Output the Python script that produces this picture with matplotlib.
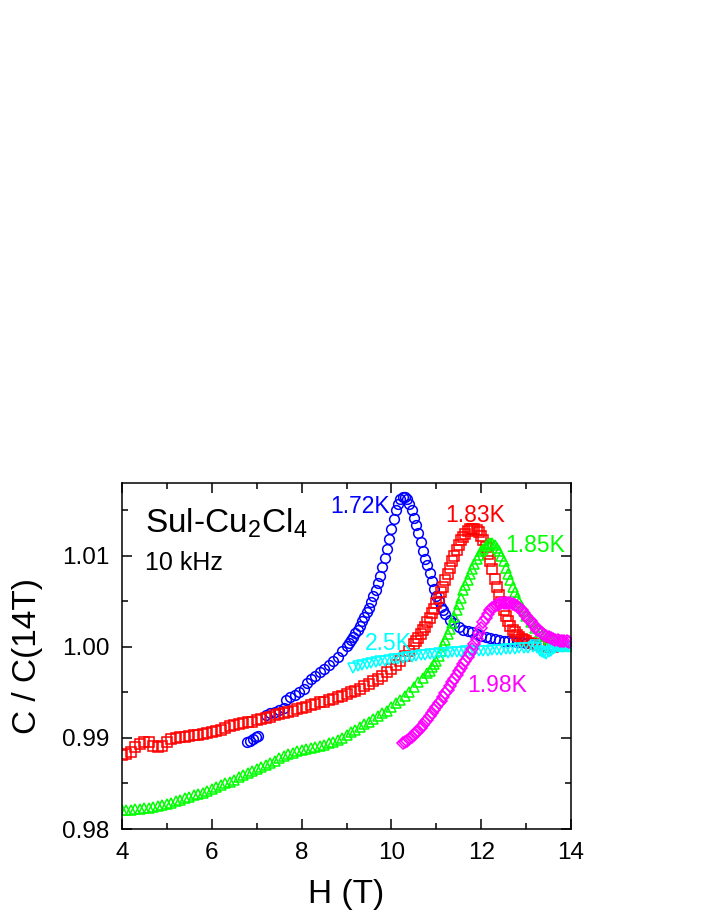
import numpy as np
import matplotlib
matplotlib.use('Agg')
import matplotlib.pyplot as plt

plt.rcParams['font.family'] = ['Liberation Sans', 'DejaVu Sans']
plt.rcParams['mathtext.fontset'] = 'custom'
plt.rcParams['mathtext.rm'] = 'Liberation Sans'
plt.rcParams['mathtext.it'] = 'Liberation Sans'

# 1.72 K  (blue circles)
h_172 = [6.78, 6.85, 6.92, 6.98, 7.03,
         7.2, 7.3, 7.4, 7.5, 7.6,
         7.65, 7.75, 7.85, 7.95, 8.05, 8.12, 8.2, 8.3, 8.4, 8.5, 8.6, 8.7, 8.8, 8.9,
         9.0, 9.05, 9.1, 9.15, 9.2, 9.25, 9.3, 9.35, 9.4, 9.45, 9.5, 9.55, 9.6, 9.65,
         9.7, 9.75, 9.8, 9.85, 9.9, 9.95, 10.0, 10.05, 10.1, 10.15, 10.2, 10.25, 10.3,
         10.35, 10.4, 10.45, 10.5, 10.55, 10.6, 10.65, 10.7, 10.75, 10.8, 10.85, 10.9,
         10.95, 11.0, 11.05, 11.1, 11.15, 11.2, 11.3, 11.4, 11.5, 11.6, 11.7, 11.8,
         11.9, 12.0, 12.1, 12.2, 12.3, 12.4, 12.5, 12.6, 12.7, 12.8, 12.9, 13.0, 13.1,
         13.2, 13.3, 13.4, 13.5, 13.6, 13.7, 13.8]
c_172 = [0.98955, 0.9897, 0.9899, 0.9901, 0.9902,
         0.9925, 0.9927, 0.9929, 0.9931, 0.9933,
         0.9942, 0.9945, 0.9947, 0.9950, 0.9954, 0.9960, 0.9965, 0.9968, 0.9972, 0.9976,
         0.9980, 0.9984, 0.9989, 0.9995,
         1.0001, 1.0004, 1.0008, 1.0011, 1.0015, 1.0019, 1.0023, 1.0028, 1.0033, 1.0038,
         1.0043, 1.0049, 1.0056, 1.0063, 1.0070, 1.0078, 1.0088, 1.0098, 1.0108, 1.0119,
         1.0130, 1.0140, 1.0150, 1.0157, 1.0162, 1.0165, 1.0165, 1.0162, 1.0157, 1.0150,
         1.0142, 1.0134, 1.0125, 1.0115, 1.0105, 1.0097, 1.0090, 1.0081, 1.0072, 1.0064,
         1.0056, 1.0050, 1.0044, 1.0040, 1.0036, 1.0030, 1.0026, 1.0022, 1.0019, 1.0017,
         1.0016, 1.0014, 1.0012, 1.0011, 1.0010, 1.0009, 1.0008, 1.0007, 1.0006, 1.0006,
         1.0005, 1.0005, 1.0004, 1.0004, 1.0003, 1.0003, 1.0003, 1.0002, 1.0002, 1.0002,
         1.0001]

# 1.83 K  (red squares)
h_183 = [4.0, 4.1, 4.2, 4.3, 4.4, 4.5, 4.6, 4.7, 4.8, 4.9, 5.0, 5.1, 5.2, 5.3, 5.4, 5.5,
         5.6, 5.7, 5.8, 5.9, 6.0, 6.1, 6.2, 6.3, 6.4, 6.5, 6.6, 6.7, 6.8, 6.9, 7.0, 7.1,
         7.2, 7.3, 7.4, 7.5, 7.6, 7.7, 7.8, 7.9, 8.0, 8.1, 8.2, 8.3, 8.4, 8.5, 8.6, 8.7,
         8.8, 8.9, 9.0, 9.1, 9.2, 9.3, 9.4, 9.5, 9.6, 9.7, 9.8, 9.9, 10.0, 10.1, 10.2,
         10.3, 10.4, 10.5, 10.55, 10.6, 10.65, 10.7, 10.75, 10.8, 10.85, 10.9, 10.95, 11.0,
         11.05, 11.1, 11.15, 11.2, 11.25, 11.3, 11.35, 11.4, 11.45, 11.5, 11.55, 11.6,
         11.65, 11.7, 11.75, 11.8, 11.85, 11.9, 11.95, 12.0, 12.05, 12.1, 12.15, 12.2,
         12.25, 12.3, 12.35, 12.4, 12.45, 12.5, 12.55, 12.6, 12.65, 12.7, 12.75, 12.8,
         12.85, 12.9, 12.95, 13.0, 13.1, 13.2, 13.3, 13.4, 13.5, 13.6]
c_183 = [0.9881, 0.9882, 0.9885, 0.9890, 0.9893, 0.9895, 0.9895, 0.9891, 0.9890, 0.9891,
         0.9895, 0.9899, 0.9900, 0.9901, 0.9901, 0.9902, 0.9903, 0.9903, 0.9904, 0.9905,
         0.9906, 0.9908, 0.9909, 0.9911, 0.9913, 0.9914, 0.9915, 0.9916, 0.9917, 0.9918,
         0.9920, 0.9921, 0.9922, 0.9923, 0.9925, 0.9926, 0.9927, 0.9929, 0.9930, 0.9932,
         0.9933, 0.9934, 0.9936, 0.9937, 0.9939, 0.9940, 0.9942, 0.9943, 0.9945, 0.9946,
         0.9948, 0.9950, 0.9952, 0.9954, 0.9957, 0.9959, 0.9962, 0.9965, 0.9968, 0.9972,
         0.9976, 0.9980, 0.9985, 0.9990, 0.9996, 1.0003, 1.0006, 1.0010, 1.0014, 1.0018,
         1.0022, 1.0027, 1.0032, 1.0037, 1.0042, 1.0048, 1.0054, 1.0060, 1.0066, 1.0073,
         1.0080, 1.0087, 1.0094, 1.0100, 1.0106, 1.0112, 1.0117, 1.0121, 1.0124, 1.0127,
         1.0129, 1.0130, 1.0130, 1.0128, 1.0126, 1.0122, 1.0117, 1.0110, 1.0102, 1.0094,
         1.0085, 1.0075, 1.0066, 1.0057, 1.0049, 1.0041, 1.0034, 1.0028, 1.0023, 1.0019,
         1.0016, 1.0013, 1.0011, 1.0009, 1.0008, 1.0006, 1.0004, 1.0003, 1.0002, 1.0001,
         1.0000, 1.0000]

# 1.85 K  (green up-triangles)
h_185 = [4.0, 4.1, 4.2, 4.3, 4.4, 4.5, 4.6, 4.7, 4.8, 4.9, 5.0, 5.1, 5.2, 5.3, 5.4, 5.5,
         5.6, 5.7, 5.8, 5.9, 6.0, 6.1, 6.2, 6.3, 6.4, 6.5, 6.6, 6.7, 6.8, 6.9, 7.0, 7.1,
         7.2, 7.3, 7.4, 7.5, 7.6, 7.7, 7.8, 7.9, 8.0, 8.1, 8.2, 8.3, 8.4, 8.5, 8.6, 8.7,
         8.8, 8.9, 9.0, 9.1, 9.2, 9.3, 9.4, 9.5, 9.6, 9.7, 9.8, 9.9, 10.0, 10.1, 10.2,
         10.3, 10.4, 10.5, 10.6, 10.7, 10.8, 10.85, 10.9, 10.95, 11.0, 11.05, 11.1, 11.15,
         11.2, 11.25, 11.3, 11.35, 11.4, 11.45, 11.5, 11.55, 11.6, 11.65, 11.7, 11.75,
         11.8, 11.85, 11.9, 11.95, 12.0, 12.05, 12.1, 12.15, 12.2, 12.25, 12.3, 12.35,
         12.4, 12.45, 12.5, 12.55, 12.6, 12.65, 12.7, 12.75, 12.8, 12.85, 12.9, 12.95,
         13.0, 13.1, 13.2, 13.3, 13.4, 13.5, 13.6, 13.7, 13.8, 13.9]
c_185 = [0.9821, 0.9821, 0.9821, 0.9822, 0.9822, 0.9823, 0.9823, 0.9824, 0.9825, 0.9826,
         0.9828, 0.9829, 0.9831, 0.9832, 0.9834, 0.9835, 0.9837, 0.9838, 0.9840, 0.9842,
         0.9844, 0.9846, 0.9848, 0.9850, 0.9852, 0.9854, 0.9857, 0.9859, 0.9862, 0.9864,
         0.9866, 0.9868, 0.9870, 0.9873, 0.9875, 0.9878, 0.9880, 0.9882, 0.9884, 0.9886,
         0.9887, 0.9888, 0.9889, 0.9890, 0.9891, 0.9892, 0.9894, 0.9896, 0.9898, 0.9900,
         0.9903, 0.9906, 0.9909, 0.9912, 0.9915, 0.9918, 0.9921, 0.9924, 0.9927, 0.9930,
         0.9934, 0.9938, 0.9942, 0.9946, 0.9951, 0.9956, 0.9961, 0.9966, 0.9971, 0.9974,
         0.9978, 0.9981, 0.9985, 0.9990, 0.9996, 1.0002, 1.0008, 1.0014, 1.0020, 1.0026,
         1.0033, 1.0040, 1.0047, 1.0054, 1.0062, 1.0068, 1.0074, 1.0080, 1.0086, 1.0091,
         1.0096, 1.0101, 1.0105, 1.0108, 1.0111, 1.0113, 1.0114, 1.0114, 1.0112, 1.0109,
         1.0105, 1.0100, 1.0094, 1.0087, 1.0080, 1.0073, 1.0066, 1.0060, 1.0054, 1.0049,
         1.0044, 1.0039, 1.0034, 1.0027, 1.0021, 1.0016, 1.0012, 1.0009, 1.0006, 1.0004,
         1.0002, 1.0001]

# 1.98 K  (magenta diamonds)
h_198 = [10.25, 10.3, 10.35, 10.4, 10.45, 10.5, 10.55, 10.6, 10.65, 10.7, 10.75, 10.8,
         10.85, 10.9, 10.95, 11.0, 11.05, 11.1, 11.15, 11.2, 11.25, 11.3, 11.35, 11.4,
         11.45, 11.5, 11.55, 11.6, 11.65, 11.7, 11.75, 11.8, 11.85, 11.9, 11.95, 12.0,
         12.05, 12.1, 12.15, 12.2, 12.25, 12.3, 12.35, 12.4, 12.45, 12.5, 12.55, 12.6,
         12.65, 12.7, 12.75, 12.8, 12.85, 12.9, 12.95, 13.0, 13.05, 13.1, 13.15, 13.2,
         13.25, 13.3, 13.35, 13.4, 13.45, 13.5, 13.55, 13.6, 13.65, 13.7, 13.75, 13.8,
         13.85, 13.9, 13.95]
c_198 = [0.9894, 0.9895, 0.9897, 0.9899, 0.9901, 0.9903, 0.9906, 0.9908, 0.9911, 0.9914,
         0.9917, 0.9920, 0.9924, 0.9927, 0.9931, 0.9934, 0.9938, 0.9941, 0.9945, 0.9949,
         0.9953, 0.9957, 0.9961, 0.9965, 0.9969, 0.9973, 0.9977, 0.9981, 0.9985, 0.9989,
         0.9993, 0.9998, 1.0003, 1.0009, 1.0015, 1.0021, 1.0027, 1.0032, 1.0036, 1.0040,
         1.0043, 1.0045, 1.0046, 1.0047, 1.0048, 1.0048, 1.0048, 1.0048, 1.0048, 1.0047,
         1.0046, 1.0045, 1.0043, 1.0040, 1.0037, 1.0034, 1.0031, 1.0028, 1.0025, 1.0022,
         1.0019, 1.0017, 1.0015, 1.0013, 1.0012, 1.0011, 1.0010, 1.0009, 1.0008, 1.0008,
         1.0007, 1.0007, 1.0006, 1.0006, 1.0005]

# 2.5 K  (cyan down-triangles)
h_250 = [9.15, 9.25, 9.35, 9.45, 9.55, 9.65, 9.75, 9.85, 9.95, 10.05, 10.15, 10.25, 10.35,
         10.45, 10.55, 10.65, 10.75, 10.85, 10.95, 11.05, 11.15, 11.25, 11.35, 11.45,
         11.55, 11.65, 11.75, 11.85, 11.95, 12.05, 12.15, 12.25, 12.35, 12.45, 12.55,
         12.65, 12.75, 12.85, 12.95, 13.05, 13.15, 13.2, 13.25, 13.3, 13.35, 13.4, 13.45,
         13.5, 13.55, 13.6, 13.65, 13.7, 13.75, 13.8, 13.85, 13.9, 13.95]
c_250 = [0.9977, 0.9979, 0.9980, 0.9981, 0.9982, 0.9983, 0.9984, 0.9985, 0.9986, 0.9987,
         0.9987, 0.9988, 0.9989, 0.9989, 0.9990, 0.9991, 0.9991, 0.9992, 0.9992, 0.9993,
         0.9993, 0.9993, 0.9994, 0.9994, 0.9994, 0.9995, 0.9995, 0.9995, 0.9996, 0.9996,
         0.9996, 0.9997, 0.9997, 0.9997, 0.9998, 0.9998, 0.9998, 0.9999, 0.9999, 0.9999,
         1.0000, 1.0002, 0.9999, 0.9996, 0.9994, 0.9993, 0.9992, 0.9994, 0.9996, 0.9998,
         0.9999, 1.0000, 1.0000, 1.0000, 1.0000, 1.0000, 1.0000]

fig = plt.figure(figsize=(7.06, 9.13), dpi=100)
ax = fig.add_axes([0.1728, 0.092, 0.636, 0.379])

mkw = dict(ls='none', mfc='none', mew=1.1)
ax.plot(h_172, c_172, marker='o', ms=7, mec='#0000ff', **mkw)
ax.plot(h_183, c_183, marker='s', ms=6.5, mec='#ff0000', **mkw)
ax.plot(h_185, c_185, marker='^', ms=7, mec='#00ff00', **mkw)
ax.plot(h_250, c_250, marker='v', ms=7, mec='#00ffff', **mkw)
ax.plot(h_198, c_198, marker='D', ms=6, mec='#ff00ff', **mkw)

ax.set_xlim(4, 14)
ax.set_ylim(0.98, 1.018)
ax.set_xticks([4, 6, 8, 10, 12, 14])
ax.set_xticks(np.arange(4, 14.01, 1), minor=True)
ax.set_yticks([0.98, 0.99, 1.00, 1.01])
ax.set_yticklabels(['0.98', '0.99', '1.00', '1.01'])
ax.set_yticks([0.985, 0.995, 1.005, 1.015], minor=True)
ax.tick_params(which='both', direction='in', top=True, right=True, width=1.1,
               labelsize=17.5, pad=9)
ax.tick_params(which='major', length=7)
ax.tick_params(which='minor', length=4)
for s in ax.spines.values():
    s.set_linewidth(1.1)

ax.set_xlabel('H (T)', fontsize=24, labelpad=11)
ax.set_ylabel('C / C(14T)', fontsize=24, labelpad=14)

ax.text(4.51, 1.01253, 'Sul-Cu$_2$Cl$_4$', fontsize=24, va='baseline')
ax.text(4.51, 1.00846, '10 kHz', fontsize=18, va='baseline')
ax.text(8.63, 1.01473, '1.72K', fontsize=16.5, color='#0000ff', va='baseline')
ax.text(11.19, 1.01374, '1.83K', fontsize=16.5, color='#ff0000', va='baseline')
ax.text(12.53, 1.01044, '1.85K', fontsize=16.5, color='#00ff00', va='baseline')
ax.text(9.41, 0.99967, '2.5K', fontsize=16.5, color='#00ffff', va='baseline')
ax.text(11.68, 0.99505, '1.98K', fontsize=16.5, color='#ff00ff', va='baseline')

fig.savefig('out.png', dpi=100)
